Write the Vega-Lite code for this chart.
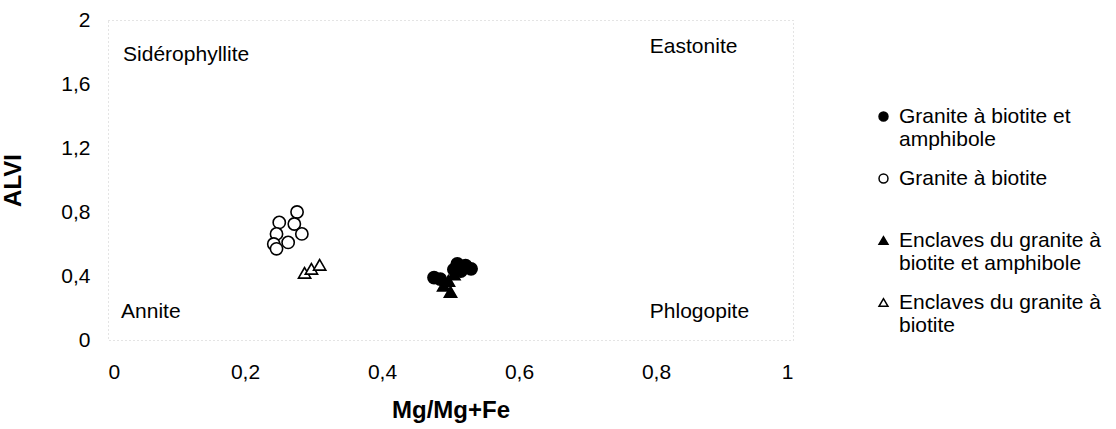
{
  "$schema": "https://vega.github.io/schema/vega-lite/v6.json",
  "width": 685,
  "height": 320,
  "padding": {"left": 1, "top": 9, "right": 5, "bottom": 5},
  "background": "white",
  "config": {
    "font": "Liberation Sans",
    "view": {"stroke": "#c8c8c8", "strokeDash": [1, 3], "strokeWidth": 1}
  },
  "datasets": {
    "pts": [
      {"g": "Granite à biotite et|amphibole", "x": 0.476, "y": 0.39},
      {"g": "Granite à biotite et|amphibole", "x": 0.485, "y": 0.38},
      {"g": "Granite à biotite et|amphibole", "x": 0.505, "y": 0.44},
      {"g": "Granite à biotite et|amphibole", "x": 0.51, "y": 0.475},
      {"g": "Granite à biotite et|amphibole", "x": 0.522, "y": 0.465},
      {"g": "Granite à biotite et|amphibole", "x": 0.53, "y": 0.445},
      {"g": "Granite à biotite et|amphibole", "x": 0.515, "y": 0.43},
      {"g": "Granite à biotite|", "x": 0.276, "y": 0.80},
      {"g": "Granite à biotite|", "x": 0.250, "y": 0.735},
      {"g": "Granite à biotite|", "x": 0.272, "y": 0.725},
      {"g": "Granite à biotite|", "x": 0.246, "y": 0.663},
      {"g": "Granite à biotite|", "x": 0.283, "y": 0.663},
      {"g": "Granite à biotite|", "x": 0.263, "y": 0.61},
      {"g": "Granite à biotite|", "x": 0.242, "y": 0.60},
      {"g": "Granite à biotite|", "x": 0.246, "y": 0.57},
      {"g": "Enclaves du granite à|biotite et amphibole", "x": 0.50, "y": 0.30},
      {"g": "Enclaves du granite à|biotite et amphibole", "x": 0.49, "y": 0.34},
      {"g": "Enclaves du granite à|biotite et amphibole", "x": 0.497, "y": 0.37},
      {"g": "Enclaves du granite à|biotite et amphibole", "x": 0.505, "y": 0.41},
      {"g": "Enclaves du granite à|biotite", "x": 0.287, "y": 0.42},
      {"g": "Enclaves du granite à|biotite", "x": 0.297, "y": 0.445},
      {"g": "Enclaves du granite à|biotite", "x": 0.309, "y": 0.47}
    ],
    "labels": [
      {"t": "Sidérophyllite", "x": 0.022, "y": 1.78},
      {"t": "Eastonite", "x": 0.791, "y": 1.83},
      {"t": "Annite", "x": 0.019, "y": 0.174},
      {"t": "Phlogopite", "x": 0.791, "y": 0.174}
    ]
  },
  "layer": [
    {
      "data": {"name": "labels"},
      "mark": {"type": "text", "align": "left", "baseline": "middle", "fontSize": 21, "color": "black"},
      "encoding": {
        "x": {"field": "x", "type": "quantitative"},
        "y": {"field": "y", "type": "quantitative"},
        "text": {"field": "t"}
      }
    },
    {
      "data": {"name": "pts"},
      "mark": {"type": "point", "filled": true, "stroke": "black", "strokeWidth": 1.6, "opacity": 1},
      "encoding": {
        "x": {
          "field": "x", "type": "quantitative",
          "scale": {"domain": [0, 1], "nice": false},
          "title": "Mg/Mg+Fe",
          "axis": {
            "values": [0, 0.2, 0.4, 0.6, 0.8, 1],
            "grid": false, "ticks": false, "domain": false,
            "labelExpr": "replace(format(datum.value, '~g'), '.', ',')",
            "labelFontSize": 21, "labelColor": "black", "labelPadding": 21,
            "titleFontSize": 24, "titleFontWeight": "bold", "titleColor": "black", "titlePadding": 16
          }
        },
        "y": {
          "field": "y", "type": "quantitative",
          "scale": {"domain": [0, 2], "nice": false},
          "title": "ALVI",
          "axis": {
            "values": [0, 0.4, 0.8, 1.2, 1.6, 2],
            "grid": false, "ticks": false, "domain": false,
            "labelExpr": "replace(format(datum.value, '~g'), '.', ',')",
            "labelFontSize": 21, "labelColor": "black", "labelPadding": 18,
            "titleFontSize": 24, "titleFontWeight": "bold", "titleColor": "black", "titlePadding": 35
          }
        },
        "shape": {
          "field": "g", "type": "nominal",
          "scale": {
            "domain": ["Granite à biotite et|amphibole", "Granite à biotite|", "Enclaves du granite à|biotite et amphibole", "Enclaves du granite à|biotite"],
            "range": ["circle", "circle", "triangle-up", "triangle-up"]
          },
          "legend": {
            "title": null,
            "orient": "none",
            "legendX": 765,
            "legendY": 86,
            "labelExpr": "split(datum.label, '|')",
            "labelFontSize": 21,
            "labelColor": "black",
            "labelBaseline": "middle",
            "labelOffset": 5,
            "labelLimit": 300,
            "symbolSize": 80,
            "rowPadding": 17,
            "encode": {
              "symbols": {"update": {
                "fill": {"signal": "indexof(datum.value, 'amphibole') >= 0 ? 'black' : 'white'"},
                "stroke": {"value": "black"},
                "strokeWidth": {"value": 1.5}
              }}
            }
          }
        },
        "fill": {
          "field": "g", "type": "nominal",
          "scale": {
            "domain": ["Granite à biotite et|amphibole", "Granite à biotite|", "Enclaves du granite à|biotite et amphibole", "Enclaves du granite à|biotite"],
            "range": ["black", "white", "black", "white"]
          },
          "legend": null
        },
        "size": {"value": 150}
      }
    }
  ]
}
